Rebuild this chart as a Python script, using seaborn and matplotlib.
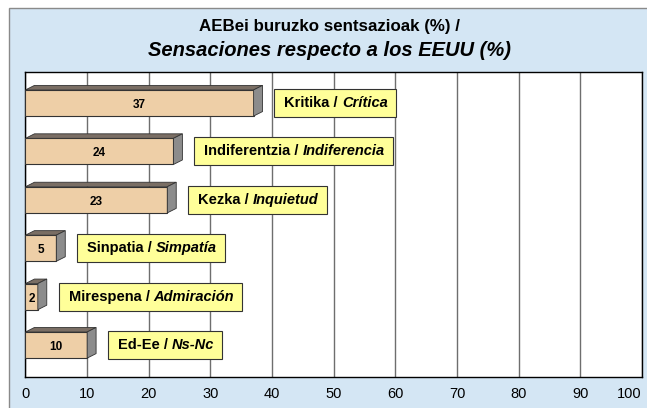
import pandas as pd
import seaborn as sns
import matplotlib.pyplot as plt
from matplotlib.patches import Polygon, Rectangle
from matplotlib.transforms import Bbox

sns.set_theme(style="white")
plt.rcParams['font.family'] = ['Liberation Sans', 'DejaVu Sans']

# data
labels_eu = ['Kritika', 'Indiferentzia', 'Kezka', 'Sinpatia', 'Mirespena', 'Ed-Ee']
labels_es = ['Crítica', 'Indiferencia', 'Inquietud', 'Simpatía', 'Admiración', 'Ns-Nc']
values = [37, 24, 23, 5, 2, 10]
xticks = [0, 10, 20, 30, 40, 50, 60, 70, 80, 90, 100]

df = pd.DataFrame({'cat': labels_eu, 'value': values})

fig = plt.figure(figsize=(6.47, 4.08), dpi=100)
fig.patch.set_facecolor('white')
panel = Rectangle((9 / 647, -0.01), 1.0, 1 - 8 / 408 + 0.01, transform=fig.transFigure,
                  facecolor='#d4e6f4', edgecolor='#8a8a8a', linewidth=1.0, zorder=-5)
fig.patches.append(panel)

ax = fig.add_axes([25.5 / 647, 31 / 408, (642 - 25.5) / 647, (377 - 72) / 408])
ax.set_facecolor('white')

sns.barplot(data=df, x='value', y='cat', orient='h', color='#eecfa7', saturation=1,
            width=0.54, edgecolor='#333333', linewidth=0.8, ax=ax, zorder=3)

ax.set_xlim(0, 100)
ax.set_ylim(5.66, -0.64)
ax.set_xticks(xticks)
ax.set_xticklabels([str(t) for t in xticks], fontsize=10.5)
ax.get_xticklabels()[-1].set_ha('right')
ax.set_yticks([])
ax.set_xlabel('')
ax.set_ylabel('')
ax.tick_params(axis='x', length=0, pad=7, colors='black')
ax.grid(axis='x', color='#6e6e6e', linewidth=1.0, zorder=0)
for s in ax.spines.values():
    s.set_color('black')
    s.set_linewidth(1.0)

# 3D depth on bars
dx, dy = 1.45, -0.093
for p in ax.patches[:len(values)]:
    x0, y0 = p.get_x(), p.get_y()
    w, h = p.get_width(), p.get_height()
    top, bot = min(y0, y0 + h), max(y0, y0 + h)
    ax.add_patch(Polygon([(x0, top), (x0 + w, top), (x0 + w + dx, top + dy), (x0 + dx, top + dy)],
                         closed=True, facecolor='#7a6e64', edgecolor='#333333', linewidth=0.6, zorder=3))
    ax.add_patch(Polygon([(x0 + w, top), (x0 + w, bot), (x0 + w + dx, bot + dy), (x0 + w + dx, top + dy)],
                         closed=True, facecolor='#8c8c8c', edgecolor='#333333', linewidth=0.6, zorder=3))

# value labels and category boxes
pairs = []
for i, v in enumerate(values):
    ax.text(v / 2, i + 0.04, str(v), ha='center', va='center', fontsize=8.5,
            fontweight='bold', color='black', zorder=5)
    t1 = ax.text(v + 5.0, i, labels_eu[i] + ' / ', ha='left', va='center', fontsize=10.5,
                 fontweight='bold', color='black', zorder=6)
    t2 = ax.annotate(labels_es[i], xy=(1, 0), xycoords=t1, ha='left', va='bottom',
                     fontsize=10.5, fontweight='bold', fontstyle='italic', color='black', zorder=6)
    pairs.append((i, t1, t2))

fig.canvas.draw()
r = fig.canvas.get_renderer()
inv = ax.transData.inverted()
for i, t1, t2 in pairs:
    bb = Bbox.union([t1.get_window_extent(r), t2.get_window_extent(r)])
    yc = ax.transData.transform((0, i))[1]
    (x0d, y0d) = inv.transform((bb.x0 - 10, yc - 14))
    (x1d, y1d) = inv.transform((bb.x1 + 8, yc + 14))
    ax.add_patch(Rectangle((x0d, y0d), x1d - x0d, y1d - y0d, facecolor='#ffff99',
                           edgecolor='#333333', linewidth=0.8, zorder=4))

fig.text(0.51, 0.936, 'AEBei buruzko sentsazioak (%) /', ha='center', va='center',
         fontsize=12.2, fontweight='bold', color='black')
fig.text(0.51, 0.875, 'Sensaciones respecto a los EEUU (%)', ha='center', va='center',
         fontsize=14.5, fontweight='bold', fontstyle='italic', color='black')

fig.savefig('out.png', dpi=100)
